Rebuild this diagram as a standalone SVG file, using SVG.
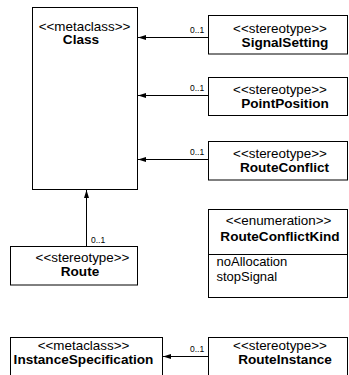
<svg xmlns="http://www.w3.org/2000/svg" width="349" height="375" viewBox="0 0 349 375">
<defs>
<style>
.box{fill:#fff;stroke:#000;stroke-width:1}
.st{font-family:"Liberation Sans",Arial,sans-serif;font-size:13.4px;text-anchor:middle;fill:#000}
.nm{font-family:"Liberation Sans",Arial,sans-serif;font-size:13.6px;font-weight:bold;text-anchor:middle;fill:#000}
.it{font-family:"Liberation Sans",Arial,sans-serif;font-size:13px;fill:#000}
.mul{font-family:"Liberation Sans",Arial,sans-serif;font-size:8.5px;fill:#000}
.con{stroke:#000;stroke-width:1;fill:none;marker-end:url(#ah)}
</style>
<marker id="ah" viewBox="0 0 8 5" refX="8" refY="2.5" markerWidth="8" markerHeight="5" markerUnits="userSpaceOnUse" orient="auto">
<path d="M0,0 L8,2.5 L0,5 Z" fill="#000"/>
</marker>
</defs>
<rect width="349" height="375" fill="#fff"/>
<g id="connectors">
<line class="con" x1="208.5" y1="37.5" x2="138" y2="37.5"/>
<text class="mul" x="190" y="33">0..1</text>
<line class="con" x1="208.5" y1="95.5" x2="138" y2="95.5"/>
<text class="mul" x="190" y="91">0..1</text>
<line class="con" x1="208.5" y1="159.5" x2="138" y2="159.5"/>
<text class="mul" x="190" y="155">0..1</text>
<line class="con" x1="86.5" y1="246.5" x2="86.5" y2="190"/>
<text class="mul" x="91" y="243">0..1</text>
<line class="con" x1="208.5" y1="356.5" x2="163" y2="356.5"/>
<text class="mul" x="190" y="352">0..1</text>
</g>
<g id="Class">
<rect class="box" x="32.5" y="7.5" width="105" height="182"/>
<text class="st" x="84.5" y="30.5">&lt;&lt;metaclass&gt;&gt;</text>
<text class="nm" x="81" y="44">Class</text>
</g>
<g id="SignalSetting">
<rect class="box" x="208.5" y="15.5" width="139" height="38.5"/>
<text class="st" x="280" y="33">&lt;&lt;stereotype&gt;&gt;</text>
<text class="nm" x="285" y="46.5">SignalSetting</text>
</g>
<g id="PointPosition">
<rect class="box" x="208.5" y="77.5" width="139" height="38"/>
<text class="st" x="280" y="94">&lt;&lt;stereotype&gt;&gt;</text>
<text class="nm" x="285" y="107.5">PointPosition</text>
</g>
<g id="RouteConflict">
<rect class="box" x="208.5" y="141.5" width="139" height="38.5"/>
<text class="st" x="280" y="158">&lt;&lt;stereotype&gt;&gt;</text>
<text class="nm" x="284.5" y="171.5">RouteConflict</text>
</g>
<g id="RouteConflictKind">
<rect class="box" x="208.5" y="209.5" width="139" height="88"/>
<line x1="208.5" y1="254.5" x2="347.5" y2="254.5" stroke="#000"/>
<text class="st" x="278.5" y="225">&lt;&lt;enumeration&gt;&gt;</text>
<text class="nm" x="280" y="240.5">RouteConflictKind</text>
<text class="it" x="216.5" y="266">noAllocation</text>
<text class="it" x="216.5" y="281">stopSignal</text>
</g>
<g id="Route">
<rect class="box" x="10.5" y="246.5" width="127" height="38.5"/>
<text class="st" x="82.5" y="262">&lt;&lt;stereotype&gt;&gt;</text>
<text class="nm" x="80" y="275.5">Route</text>
</g>
<g id="InstanceSpecification">
<rect class="box" x="10.5" y="337.5" width="152" height="38"/>
<text class="st" x="83.5" y="350">&lt;&lt;metaclass&gt;&gt;</text>
<text class="nm" x="83.5" y="363.5">InstanceSpecification</text>
</g>
<g id="RouteInstance">
<rect class="box" x="208.5" y="337.5" width="139" height="38"/>
<text class="st" x="280" y="350">&lt;&lt;stereotype&gt;&gt;</text>
<text class="nm" x="285" y="363.5">RouteInstance</text>
</g>
</svg>
